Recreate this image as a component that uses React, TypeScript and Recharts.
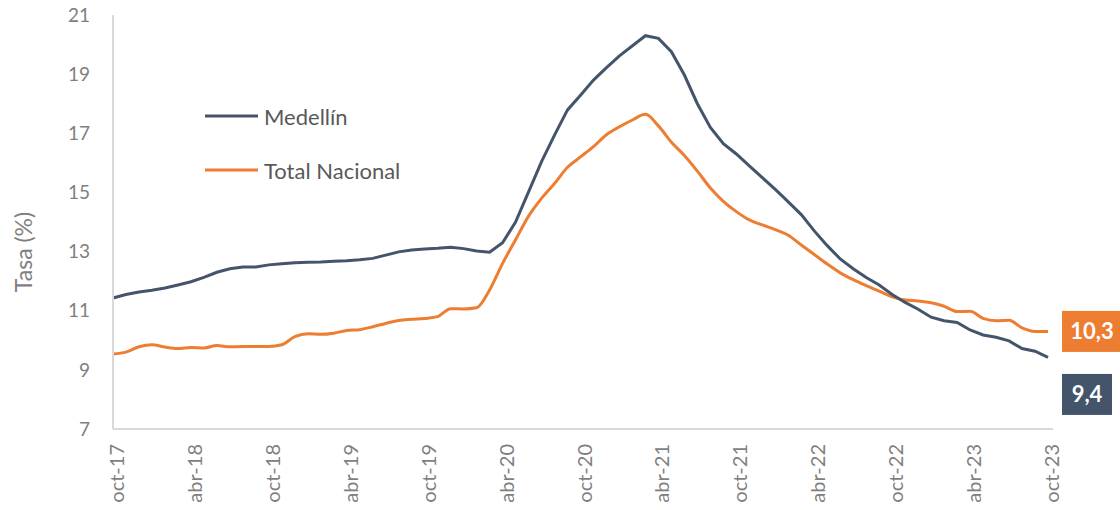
import { LineChart, Line, XAxis, YAxis, LabelList } from "recharts"

// meses oct-17 .. oct-23
const months = [
  "oct-17", "nov-17", "dic-17",
  "ene-18", "feb-18", "mar-18", "abr-18", "may-18", "jun-18", "jul-18", "ago-18", "sep-18", "oct-18", "nov-18", "dic-18",
  "ene-19", "feb-19", "mar-19", "abr-19", "may-19", "jun-19", "jul-19", "ago-19", "sep-19", "oct-19", "nov-19", "dic-19",
  "ene-20", "feb-20", "mar-20", "abr-20", "may-20", "jun-20", "jul-20", "ago-20", "sep-20", "oct-20", "nov-20", "dic-20",
  "ene-21", "feb-21", "mar-21", "abr-21", "may-21", "jun-21", "jul-21", "ago-21", "sep-21", "oct-21", "nov-21", "dic-21",
  "ene-22", "feb-22", "mar-22", "abr-22", "may-22", "jun-22", "jul-22", "ago-22", "sep-22", "oct-22", "nov-22", "dic-22",
  "ene-23", "feb-23", "mar-23", "abr-23", "may-23", "jun-23", "jul-23", "ago-23", "sep-23", "oct-23",
]

const medellin = [
  11.43, 11.55, 11.63, 11.69, 11.77, 11.87,
  11.98, 12.13, 12.3, 12.42, 12.48, 12.48,
  12.55, 12.59, 12.62, 12.64, 12.65, 12.67,
  12.69, 12.72, 12.77, 12.88, 12.99, 13.05,
  13.09, 13.11, 13.15, 13.1, 13.02, 12.98,
  13.3, 14.0, 15.02, 16.04, 16.94, 17.79,
  18.29, 18.8, 19.22, 19.62, 19.96, 20.3,
  20.21, 19.76, 18.97, 18.0, 17.2, 16.65,
  16.3, 15.9, 15.5, 15.1, 14.68, 14.25,
  13.7, 13.2, 12.75, 12.42, 12.12, 11.87,
  11.55, 11.28, 11.05, 10.78, 10.66, 10.6,
  10.35, 10.18, 10.1, 9.98, 9.72, 9.63,
  9.42,
]

const totalNacional = [
  9.54, 9.6, 9.78, 9.85, 9.77, 9.72,
  9.76, 9.74, 9.82, 9.78, 9.79, 9.79,
  9.79, 9.85, 10.12, 10.22, 10.2, 10.24,
  10.33, 10.36, 10.46, 10.57, 10.67, 10.71,
  10.74, 10.8, 11.07, 11.06, 11.1, 11.7,
  12.6, 13.4, 14.2, 14.8, 15.3, 15.85,
  16.2, 16.55, 16.95, 17.22, 17.45, 17.64,
  17.25, 16.7, 16.25, 15.72, 15.15, 14.7,
  14.35, 14.07, 13.9, 13.74, 13.55, 13.22,
  12.9, 12.58, 12.28, 12.05, 11.85, 11.66,
  11.47, 11.36, 11.33, 11.27, 11.15, 10.97,
  10.98, 10.74, 10.66, 10.68, 10.42, 10.3,
  10.3,
]

const yTicks = [7, 9, 11, 13, 15, 17, 19, 21]

const FONT = "Lato, 'Open Sans', sans-serif"
const DARK = "#44546A"
const ORANGE = "#ED7D31"
const GRAY = "#7F7F7F"

const data = months.map((m, i) => ({
  mes: m,
  medellin: medellin[i],
  total: totalNacional[i],
}))

const lastIndex = months.length - 1

function XTick({ x, y, payload }: any) {
  return (
    <text
      x={x}
      y={y}
      dx={-15}
      dy="0.55em"
      transform={`rotate(-90, ${x}, ${y})`}
      textAnchor="end"
      fill={GRAY}
      fontSize={20}
      fontFamily={FONT}
    >
      {payload.value}
    </text>
  )
}

// etiqueta final en caja de color
function endLabel(color: string, width: number, shift: number) {
  return (props: any) => {
    const { x, y, value, index } = props
    if (index !== lastIndex) return null
    const cy = y + shift
    return (
      <g>
        <rect x={x + 14} y={cy - 20.5} width={width} height={41} fill={color} />
        <text
          x={x + 14 + width / 2}
          y={cy}
          dy="0.36em"
          textAnchor="middle"
          fill="#fff"
          fontSize={22}
          fontWeight={700}
          fontFamily={FONT}
        >
          {Number(value).toFixed(1).replace(".", ",")}
        </text>
      </g>
    )
  }
}

const legendItems = [
  { name: "Medellín", color: DARK },
  { name: "Total Nacional", color: ORANGE },
]

export default function App() {
  return (
    <div style={{ position: "relative", width: 1120, height: 510, background: "#fff" }}>
      <style>{`body{margin:0}`}</style>
      <LineChart width={1120} height={510} data={data} margin={{ top: 15, right: 67, left: 0, bottom: 0 }}>
        <XAxis
          dataKey="mes"
          interval={5}
          tick={<XTick />}
          tickLine={false}
          tickSize={0}
          tickMargin={0}
          axisLine={{ stroke: "#D9D9D9", strokeWidth: 2 }}
          padding={{ left: 0, right: 5 }}
          height={81}
        />
        <YAxis
          domain={[7, 21]}
          ticks={yTicks}
          interval={0}
          width={113}
          tickLine={false}
          tickSize={0}
          tickMargin={23}
          axisLine={{ stroke: "#D9D9D9", strokeWidth: 2 }}
          tick={{ fill: GRAY, fontSize: 19, fontFamily: FONT }}
          label={{
            content: () => (
              <text
                x={24}
                y={252}
                transform="rotate(-90, 24, 252)"
                textAnchor="middle"
                dy="0.36em"
                fill={GRAY}
                fontSize={23}
                fontFamily={FONT}
              >
                Tasa (%)
              </text>
            ),
          }}
        />
        <Line
          type="monotone"
          dataKey="total"
          name="Total Nacional"
          stroke={ORANGE}
          strokeWidth={3}
          dot={false}
          isAnimationActive={false}
        >
          <LabelList dataKey="total" content={endLabel(ORANGE, 60, 0)} />
        </Line>
        <Line
          type="linear"
          dataKey="medellin"
          name="Medellín"
          stroke={DARK}
          strokeWidth={3}
          dot={false}
          isAnimationActive={false}
        >
          <LabelList dataKey="medellin" content={endLabel(DARK, 50, 37)} />
        </Line>
      </LineChart>
      {/* leyenda manual */}
      <div style={{ position: "absolute", left: 205, top: 89, fontFamily: FONT }}>
        {legendItems.map((it) => (
          <div key={it.name} style={{ display: "flex", alignItems: "center", height: 54 }}>
            <svg width={59} height={10}>
              <line x1={0} x2={53} y1={5} y2={5} stroke={it.color} strokeWidth={3} />
            </svg>
            <span style={{ fontSize: 22, color: "#595959" }}>{it.name}</span>
          </div>
        ))}
      </div>
    </div>
  )
}
